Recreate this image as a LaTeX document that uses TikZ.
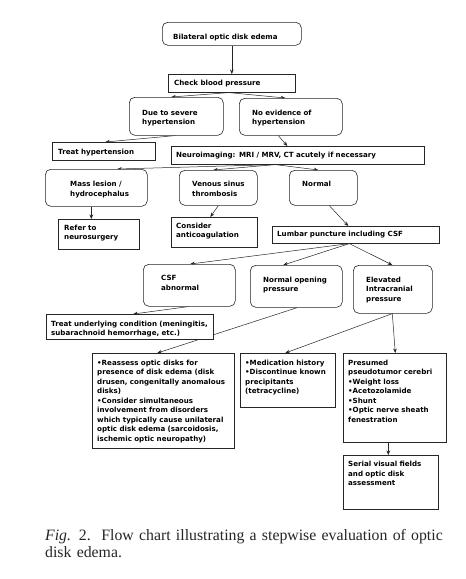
\documentclass[tikz,border=0pt]{standalone}
\usepackage{fontspec}
\setmainfont{DejaVu Sans}
\newfontfamily\capfont{Liberation Serif}
\usetikzlibrary{arrows.meta,backgrounds}
\tikzset{
  box/.style={draw=black!85, line width=0.6pt, fill=white, inner sep=0pt, anchor=north west},
  rbox/.style={box, rounded corners=5.5pt},
  txt/.style={font=\bfseries\fontsize{7.1}{9.5}\selectfont, align=left, text width=220pt, inner sep=0pt, anchor=base west},
  arr/.style={-{Stealth[length=4.5pt,width=3.6pt]}, line width=0.5pt, draw=black!85},
  ln/.style={line width=0.5pt, draw=black!85}
}
\begin{document}
\begin{tikzpicture}[x=1pt,y=-1pt]
\useasboundingbox (0,0) rectangle (466,579);
% boxes
\node[rbox, minimum width=139pt, minimum height=23pt] (b1) at (162,22) {};
\node[box,  minimum width=127pt, minimum height=18pt] (b2) at (168,74) {};
\node[rbox, minimum width=94pt,  minimum height=38pt] (b3) at (129,97) {};
\node[rbox, minimum width=103pt, minimum height=37pt] (b4) at (239,98) {};
\node[box,  minimum width=103pt, minimum height=18pt] (b5) at (52,142) {};
\node[box,  minimum width=253pt, minimum height=18pt] (b6) at (171,146) {};
\node[rbox, minimum width=102pt, minimum height=37pt] (b7) at (45,169) {};
\node[rbox, minimum width=78pt,  minimum height=35pt] (b8) at (179,170) {};
\node[rbox, minimum width=68pt,  minimum height=35pt] (b9) at (289,170) {};
\node[box,  minimum width=81pt,  minimum height=30pt] (b10) at (58,219) {};
\node[box,  minimum width=86pt,  minimum height=30pt] (b11) at (171,217) {};
\node[box,  minimum width=167pt, minimum height=17pt] (b12) at (272,226) {};
\node[rbox, minimum width=92pt,  minimum height=42pt] (b13) at (143,264) {};
\node[rbox, minimum width=92pt,  minimum height=42pt] (b14) at (250,265) {};
\node[rbox, minimum width=79pt,  minimum height=48pt] (b15) at (353,265) {};
\node[box,  minimum width=167pt, minimum height=25pt] (b16) at (46,314) {};
\node[box,  minimum width=142pt, minimum height=95pt] (b17) at (92,353) {};
\node[box,  minimum width=95pt,  minimum height=54pt] (b18) at (240,353) {};
\node[box,  minimum width=103pt, minimum height=89pt] (b19) at (343,353) {};
\node[box,  minimum width=95pt,  minimum height=54pt] (b20) at (343,455) {};
\coordinate (c19a) at (395,420);
\coordinate (c19b) at (395,435);
% connectors behind the boxes
\begin{scope}[on background layer]
\fill[white] (0,0) rectangle (466,579);
\draw[arr] (b1.south) -- (b2.north);
\draw[arr] ([xshift=-3pt]b2.south) -- ([xshift=-5pt]b3.north);
\draw[arr] ([xshift=-3pt]b2.south) -- ([xshift=-5.5pt]b4.north);
\draw[arr] ([xshift=-1pt]b3.south) -- ([xshift=1.5pt]b5.north);
\draw[arr] ([xshift=-12.5pt]b4.south) -- ([xshift=-10.5pt]b6.north);
\draw[arr] ([xshift=-22.5pt]b6.south) -- ([xshift=21pt]b7.north);
\draw[arr] ([xshift=-22.5pt]b6.south) -- ([xshift=-5pt]b8.north);
\draw[arr] ([xshift=-22.5pt]b6.south) -- ([xshift=-5pt]b9.north);
\draw[arr] ([xshift=-5pt]b7.south) -- ([xshift=-7.5pt]b10.north);
\draw[arr] (b8.south) -- ([xshift=-4pt]b11.north);
\draw[arr] ([xshift=6pt]b9.south) -- ([xshift=-7.5pt]b12.north);
\draw[arr] ([xshift=-6.5pt]b12.south) -- ([xshift=1pt]b13.north);
\draw[arr] ([xshift=-6.5pt]b12.south) -- ([xshift=-13pt]b14.north);
\draw[arr] ([xshift=-6.5pt]b12.south) -- ([xshift=-0.5pt]b15.north);
\draw[arr] ([xshift=-1pt]b13.south) -- ([xshift=3.5pt]b16.north);
\draw[arr] ([xshift=1pt]b14.south) -- ([xshift=-6pt]b17.north);
\draw[arr] ([xshift=-0.5pt]b15.south) -- ([xshift=-2.5pt]b18.north);
\draw[arr] ([xshift=-0.5pt]b15.south) -- ([xshift=0.5pt]b19.north);
\draw[arr] (c19a) -- (c19b);
\draw[arr] ([xshift=-6.5pt]b19.south) -- ([xshift=-2.5pt]b20.north);
\end{scope}
% texts
\node[txt] (t1) at (173,39) {Bilateral optic disk edema};
\node[txt] (t2) at (174,85.5) {Check blood pressure};
\node[txt] (t3) at (142,115) {Due to severe\\hypertension};
\node[txt] (t4) at (252,115) {No evidence of\\hypertension};
\node[txt] (t5) at (58,154) {Treat hypertension};
\node[txt] (t6) at (176,157) {Neuroimaging: MRI / MRV, CT acutely if necessary};
\node[txt] (t7) at (70,186.5) {Mass lesion /\\hydrocephalus};
\node[txt] (t8) at (192,186.5) {Venous sinus\\thrombosis};
\node[txt] (t9) at (302,186.5) {Normal};
\node[txt] (t10) at (64,230) {Refer to\\neurosurgery};
\node[txt] (t11) at (176,228) {Consider\\anticoagulation};
\node[txt] (t12) at (277,236.7) {Lumbar puncture including CSF};
\node[txt] (t13) at (161,280.7) {CSF\\abnormal};
\node[txt] (t14) at (263,282) {Normal opening\\pressure};
\node[txt] (t15) at (366,282) {Elevated\\Intracranial\\pressure};
\node[txt] (t16) at (51,326) {Treat underlying condition (meningitis,\\subarachnoid hemorrhage, etc.)};
\node[txt] (t17) at (97,365) {•Reassess optic disks for\\presence of disk edema (disk\\drusen, congenitally anomalous\\disks)\\•Consider simultaneous\\involvement from disorders\\which typically cause unilateral\\optic disk edema (sarcoidosis,\\ischemic optic neuropathy)};
\node[txt] (t18) at (245,365) {•Medication history\\•Discontinue known\\precipitants\\(tetracycline)};
\node[txt] (t19) at (348,365) {Presumed\\pseudotumor cerebri\\•Weight loss\\•Acetozolamide\\•Shunt\\•Optic nerve sheath\\fenestration};
\node[txt] (t20) at (348,466.7) {Serial visual fields\\and optic disk\\assessment};
% caption
\node[font=\capfont\fontsize{15.8}{17.5}\selectfont, text=black!85, align=left, text width=440pt, inner sep=0pt, anchor=base west] (cap) at (45,540) {\textit{Fig.} 2.\ \ Flow chart illustrating a stepwise evaluation of optic\\disk edema.};
\end{tikzpicture}
\end{document}
